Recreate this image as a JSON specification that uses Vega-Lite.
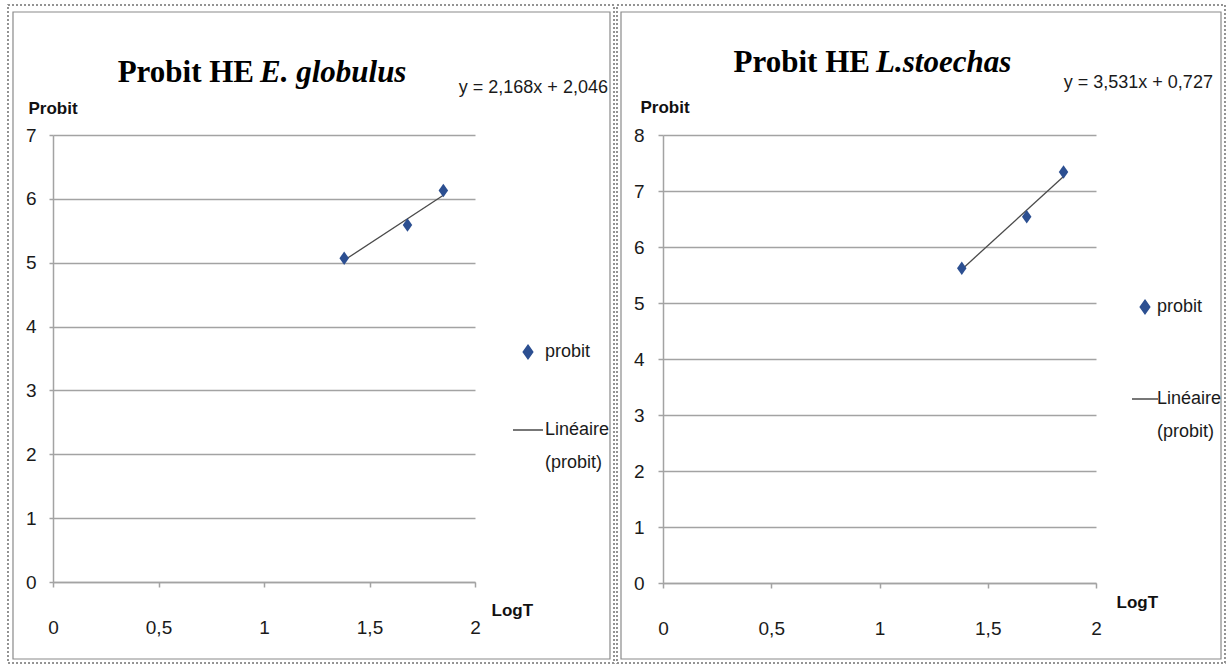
{
  "$schema": "https://vega.github.io/schema/vega-lite/v6.json",
  "background": "white",
  "padding": {"left": 7, "top": 4, "right": 2, "bottom": 3},
  "spacing": 1,
  "datasets": {
    "globulus": [
      {"LogT": 1.38, "Probit": 5.07, "serie": "probit"},
      {"LogT": 1.68, "Probit": 5.59, "serie": "probit"},
      {"LogT": 1.85, "Probit": 6.13, "serie": "probit"}
    ],
    "globulus_lin": [
      {"LogT": 1.38, "Probit": 5.038, "serie": "Linéaire (probit)"},
      {"LogT": 1.85, "Probit": 6.057, "serie": "Linéaire (probit)"}
    ],
    "stoechas": [
      {"LogT": 1.38, "Probit": 5.62, "serie": "probit"},
      {"LogT": 1.68, "Probit": 6.54, "serie": "probit"},
      {"LogT": 1.85, "Probit": 7.34, "serie": "probit"}
    ],
    "stoechas_lin": [
      {"LogT": 1.38, "Probit": 5.600, "serie": "Linéaire (probit)"},
      {"LogT": 1.85, "Probit": 7.259, "serie": "Linéaire (probit)"}
    ]
  },
  "config": {
    "view": {"stroke": null},
    "font": "Liberation Sans, Arial, sans-serif",
    "style": {"guide-label": {"lineHeight": 33}},
    "axis": {
      "labelFont": "Liberation Sans, Arial, sans-serif",
      "labelFontSize": 19,
      "labelColor": "#1a1a1a",
      "labelFlush": false,
      "labelExpr": "replace(toString(datum.value), '.', ',')",
      "titleFont": "Liberation Sans, Arial, sans-serif",
      "titleFontSize": 17,
      "titleFontWeight": "bold",
      "titleColor": "#111111",
      "titleAngle": 0,
      "titleAlign": "left",
      "titleBaseline": "alphabetic",
      "domainColor": "#a3a3a3",
      "domainWidth": 1.5,
      "tickColor": "#a3a3a3",
      "tickWidth": 1.5,
      "gridColor": "#a3a3a3",
      "gridWidth": 1.5
    },
    "axisX": {"grid": false, "tickSize": 5, "labelPadding": 31},
    "axisY": {"grid": true, "tickSize": 4, "labelPadding": 13},
    "legend": {
      "title": null,
      "orient": "none",
      "padding": 0,
      "labelFont": "Liberation Sans, Arial, sans-serif",
      "labelFontSize": 18,
      "labelColor": "#1a1a1a",
      "labelBaseline": "middle",
      "symbolStrokeWidth": 1.5,
      "symbolSize": 100
    }
  },
  "resolve": {
    "scale": {"color": "independent", "shape": "independent"},
    "legend": {"color": "independent", "shape": "independent"}
  },
  "hconcat": [
    {
      "width": 422,
      "height": 447,
      "layer": [
        {
          "data": {"values": [{}]},
          "mark": {"type": "rect", "fill": "transparent", "stroke": "#707070", "strokeWidth": 1.5, "strokeDash": [2, 2]},
          "encoding": {
            "x": {"datum": -0.2133, "type": "quantitative", "scale": {"domain": [0, 2], "nice": false}},
            "x2": {"datum": 2.6588},
            "y": {"datum": 9.0358, "type": "quantitative", "scale": {"domain": [0, 7], "nice": false}},
            "y2": {"datum": -1.2685}
          }
        },
        {
          "data": {"values": [{}]},
          "mark": {"type": "rect", "fill": "transparent", "stroke": "#8a8a8a", "strokeWidth": 1.2},
          "encoding": {
            "x": {"datum": -0.1896, "type": "quantitative"},
            "x2": {"datum": 2.6398},
            "y": {"datum": 8.926, "type": "quantitative"},
            "y2": {"datum": -1.2058}
          }
        },
        {
          "data": {"values": [{}]},
          "mark": {"type": "text", "text": "Probit HE", "font": "Liberation Serif", "fontWeight": "bold", "fontSize": 31, "align": "right", "baseline": "alphabetic", "color": "#000000"},
          "encoding": {
            "x": {"datum": 0.9526, "type": "quantitative"},
            "y": {"datum": 7.83, "type": "quantitative"}
          }
        },
        {
          "data": {"values": [{}]},
          "mark": {"type": "text", "text": "E. globulus", "font": "Liberation Serif", "fontWeight": "bold", "fontStyle": "italic", "fontSize": 31, "align": "left", "baseline": "alphabetic", "color": "#000000"},
          "encoding": {
            "x": {"datum": 0.981, "type": "quantitative"},
            "y": {"datum": 7.83, "type": "quantitative"}
          }
        },
        {
          "data": {"values": [{}]},
          "mark": {"type": "text", "text": "y = 2,168x + 2,046", "fontSize": 18, "align": "right", "baseline": "alphabetic", "color": "#1a1a1a"},
          "encoding": {
            "x": {"datum": 2.63, "type": "quantitative"},
            "y": {"datum": 7.658, "type": "quantitative"}
          }
        },
        {
          "data": {"name": "globulus_lin"},
          "mark": {"type": "line", "strokeWidth": 1.3},
          "encoding": {
            "x": {"field": "LogT", "type": "quantitative"},
            "y": {"field": "Probit", "type": "quantitative"},
            "color": {"field": "serie", "type": "nominal"}
          }
        },
        {
          "data": {"name": "globulus"},
          "mark": {"type": "point", "filled": true, "opacity": 1, "size": 100},
          "encoding": {
            "x": {
              "field": "LogT", "type": "quantitative",
              "scale": {"domain": [0, 2], "nice": false},
              "axis": {"title": "LogT", "values": [0, 0.5, 1, 1.5, 2], "titleX": 438, "titleY": 33}
            },
            "y": {
              "field": "Probit", "type": "quantitative",
              "scale": {"domain": [0, 7], "nice": false},
              "axis": {"title": "Probit", "values": [0, 1, 2, 3, 4, 5, 6, 7], "titleX": -25, "titleY": -22}
            },
            "color": {
              "field": "serie", "type": "nominal",
              "scale": {"domain": ["probit", "Linéaire (probit)"], "range": ["#2c4f91", "#4a4a4a"]},
              "legend": {
                "legendX": 466, "legendY": 208, "labelOffset": 8, "rowPadding": 59,
                "labelExpr": "datum.label == 'Linéaire (probit)' ? ['Linéaire', '(probit)'] : datum.label",
                "encode": {
                  "symbols": {"update": {
                    "fill": {"signal": "datum.value === 'probit' ? '#2c4f91' : 'transparent'"},
                    "stroke": {"signal": "datum.value === 'probit' ? 'transparent' : '#4a4a4a'"}
                  }}
                }
              }
            },
            "shape": {
              "field": "serie", "type": "nominal",
              "scale": {"domain": ["probit", "Linéaire (probit)"], "range": ["M0,-1.35L0.95,0L0,1.35L-0.95,0Z", "M-3,0H3"]},
              "legend": {
                "legendX": 466, "legendY": 208, "labelOffset": 8, "rowPadding": 59,
                "labelExpr": "datum.label == 'Linéaire (probit)' ? ['Linéaire', '(probit)'] : datum.label",
                "encode": {
                  "symbols": {"update": {
                    "fill": {"signal": "datum.value === 'probit' ? '#2c4f91' : 'transparent'"},
                    "stroke": {"signal": "datum.value === 'probit' ? 'transparent' : '#4a4a4a'"}
                  }}
                }
              }
            }
          }
        }
      ]
    },
    {
      "width": 433,
      "height": 448,
      "layer": [
        {
          "data": {"values": [{}]},
          "mark": {"type": "rect", "fill": "transparent", "stroke": "#707070", "strokeWidth": 1.5, "strokeDash": [2, 2]},
          "encoding": {
            "x": {"datum": -0.2125, "type": "quantitative", "scale": {"domain": [0, 2], "nice": false}},
            "x2": {"datum": 2.5958},
            "y": {"datum": 10.3214, "type": "quantitative", "scale": {"domain": [0, 8], "nice": false}},
            "y2": {"datum": -1.4286}
          }
        },
        {
          "data": {"values": [{}]},
          "mark": {"type": "rect", "fill": "transparent", "stroke": "#8a8a8a", "strokeWidth": 1.2},
          "encoding": {
            "x": {"datum": -0.194, "type": "quantitative"},
            "x2": {"datum": 2.5774},
            "y": {"datum": 10.196, "type": "quantitative"},
            "y2": {"datum": -1.357}
          }
        },
        {
          "data": {"values": [{}]},
          "mark": {"type": "text", "text": "Probit HE", "font": "Liberation Serif", "fontWeight": "bold", "fontSize": 31, "align": "right", "baseline": "alphabetic", "color": "#000000"},
          "encoding": {
            "x": {"datum": 0.956, "type": "quantitative"},
            "y": {"datum": 9.125, "type": "quantitative"}
          }
        },
        {
          "data": {"values": [{}]},
          "mark": {"type": "text", "text": "L.stoechas", "font": "Liberation Serif", "fontWeight": "bold", "fontStyle": "italic", "fontSize": 31, "align": "left", "baseline": "alphabetic", "color": "#000000"},
          "encoding": {
            "x": {"datum": 0.984, "type": "quantitative"},
            "y": {"datum": 9.125, "type": "quantitative"}
          }
        },
        {
          "data": {"values": [{}]},
          "mark": {"type": "text", "text": "y = 3,531x + 0,727", "fontSize": 18, "align": "right", "baseline": "alphabetic", "color": "#1a1a1a"},
          "encoding": {
            "x": {"datum": 2.54, "type": "quantitative"},
            "y": {"datum": 8.84, "type": "quantitative"}
          }
        },
        {
          "data": {"name": "stoechas_lin"},
          "mark": {"type": "line", "strokeWidth": 1.3},
          "encoding": {
            "x": {"field": "LogT", "type": "quantitative"},
            "y": {"field": "Probit", "type": "quantitative"},
            "color": {"field": "serie", "type": "nominal"}
          }
        },
        {
          "data": {"name": "stoechas"},
          "mark": {"type": "point", "filled": true, "opacity": 1, "size": 100},
          "encoding": {
            "x": {
              "field": "LogT", "type": "quantitative",
              "scale": {"domain": [0, 2], "nice": false},
              "axis": {"title": "LogT", "values": [0, 0.5, 1, 1.5, 2], "titleX": 453, "titleY": 24}
            },
            "y": {
              "field": "Probit", "type": "quantitative",
              "scale": {"domain": [0, 8], "nice": false},
              "axis": {"title": "Probit", "values": [0, 1, 2, 3, 4, 5, 6, 7, 8], "titleX": -23, "titleY": -23, "tickSize": 5, "labelPadding": 14}
            },
            "color": {
              "field": "serie", "type": "nominal",
              "scale": {"domain": ["probit", "Linéaire (probit)"], "range": ["#2c4f91", "#4a4a4a"]},
              "legend": {
                "legendX": 473, "legendY": 163, "labelOffset": 3, "rowPadding": 73,
                "labelExpr": "datum.label == 'Linéaire (probit)' ? ['Linéaire', '(probit)'] : datum.label",
                "encode": {
                  "symbols": {"update": {
                    "fill": {"signal": "datum.value === 'probit' ? '#2c4f91' : 'transparent'"},
                    "stroke": {"signal": "datum.value === 'probit' ? 'transparent' : '#4a4a4a'"}
                  }}
                }
              }
            },
            "shape": {
              "field": "serie", "type": "nominal",
              "scale": {"domain": ["probit", "Linéaire (probit)"], "range": ["M0,-1.35L0.95,0L0,1.35L-0.95,0Z", "M-2.6,0H2.6"]},
              "legend": {
                "legendX": 473, "legendY": 163, "labelOffset": 3, "rowPadding": 73,
                "labelExpr": "datum.label == 'Linéaire (probit)' ? ['Linéaire', '(probit)'] : datum.label",
                "encode": {
                  "symbols": {"update": {
                    "fill": {"signal": "datum.value === 'probit' ? '#2c4f91' : 'transparent'"},
                    "stroke": {"signal": "datum.value === 'probit' ? 'transparent' : '#4a4a4a'"}
                  }}
                }
              }
            }
          }
        }
      ]
    }
  ]
}
